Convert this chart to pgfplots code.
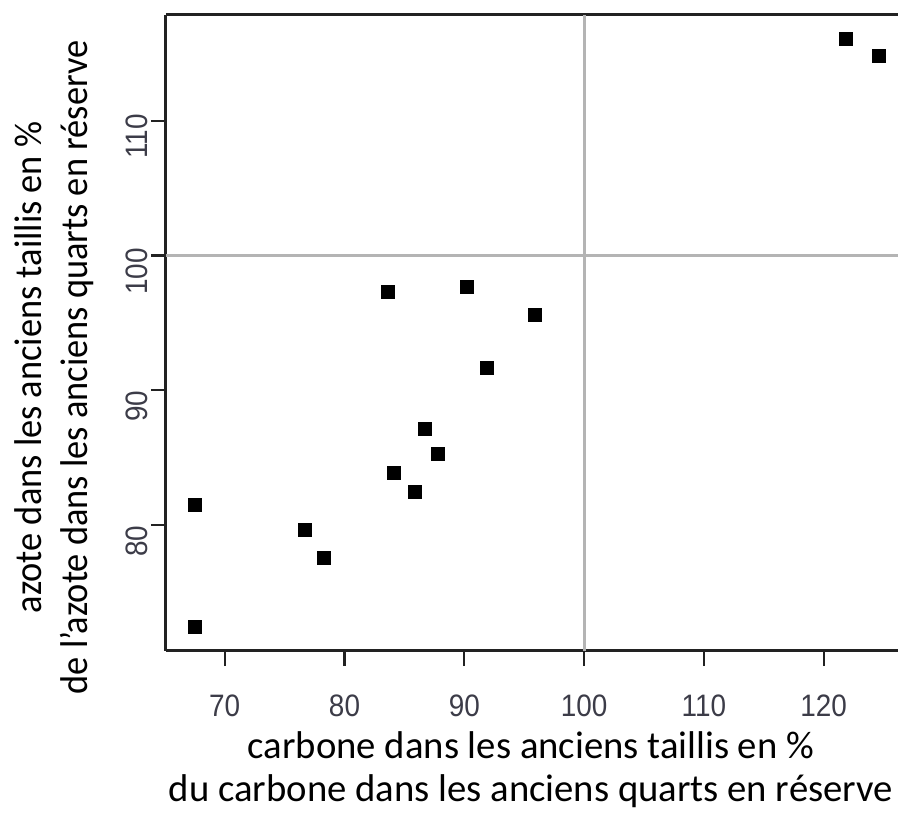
\documentclass[border=0pt]{standalone}
\usepackage{pgfplots}
\pgfplotsset{compat=1.18}
\usepackage{fontspec}
\setmainfont{Carlito}
\newfontfamily\tickfont[FakeStretch=0.9]{Liberation Sans}
\newfontfamily\ylabfont[FakeStretch=0.94]{Carlito}
\usetikzlibrary{calc}
\definecolor{axisgray}{HTML}{222222}
\definecolor{gridgray}{HTML}{B4B4B4}
\definecolor{ticklab}{HTML}{3C3C48}
\begin{document}
\begin{tikzpicture}
\begin{axis}[
  scale only axis,
  width=732pt, height=636pt,
  xmin=65.1, xmax=126.2,
  ymin=70.68, ymax=117.83,
  axis x line*=box,
  axis y line*=left,
  xtick={70,80,90,100,110,120},
  xticklabels={70,80,90,100,110,120},
  ytick={80,90,100,110},
  yticklabels={80,90,100,110},
  xtick pos=bottom, ytick pos=left,
  tick align=outside,
  major tick length=15pt,
  every tick/.style={axisgray, line width=2.2pt},
  axis line style={axisgray, line width=3pt},
  tick label style={font=\tickfont\fontsize{31}{33}\selectfont, text=ticklab},
  xticklabel style={anchor=north, yshift=-25pt},
  yticklabel style={rotate=90, anchor=south, xshift=-16pt},
  clip=false,
]
\draw[gridgray, line width=3pt] (axis cs:100,70.68) -- (axis cs:100,117.83);
\draw[gridgray, line width=3pt] (axis cs:65.1,100) -- (axis cs:126.2,100);
\addplot[only marks, mark=square*, mark size=6.5pt, black] coordinates {
(121.8,116.1) (124.6,114.8) (83.6,97.3) (90.2,97.7) (95.9,95.6)
(91.85,91.65) (86.7,87.15) (87.8,85.3) (84.1,83.9) (85.9,82.5)
(67.5,81.5) (76.7,79.7) (78.3,77.6) (67.5,72.5)
};
\coordinate (bl) at (rel axis cs:0,0);
\node[font=\fontsize{38.7}{43}\selectfont, anchor=base] at (rel axis cs:0.4986,-0.1698) {carbone dans les anciens taillis en \%};
\node[font=\fontsize{38.7}{43}\selectfont, anchor=base] at (rel axis cs:0.4986,-0.2374) {du carbone dans les anciens quarts en réserve};
\node[font=\ylabfont\fontsize{38.7}{43}\selectfont, anchor=base, rotate=90] at (rel axis cs:-0.1694,0.4458) {azote dans les anciens taillis en \%};
\node[font=\ylabfont\fontsize{38.7}{43}\selectfont, anchor=base, rotate=90] at (rel axis cs:-0.1066,0.4458) {de l’azote dans les anciens quarts en réserve};
\end{axis}
\pgfresetboundingbox
\path[use as bounding box] ($(bl)+(-166pt,-163pt)$) rectangle ($(bl)+(732pt,651pt)$);
\end{tikzpicture}
\end{document}
